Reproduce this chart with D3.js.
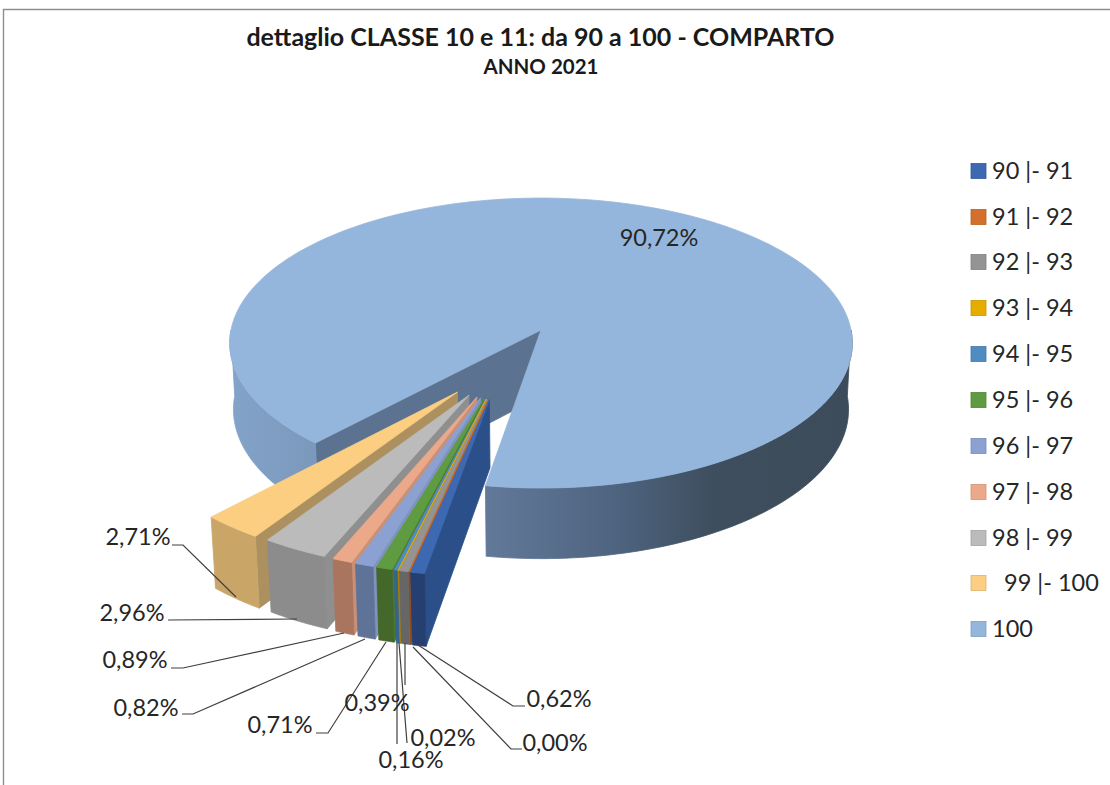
<!DOCTYPE html>
<html><head><meta charset="utf-8">
<script src="https://cdn.jsdelivr.net/npm/d3@7"></script>
<style>html,body{margin:0;padding:0;background:#fff}svg{display:block}text{font-family:Lato,"Open Sans",sans-serif}</style>
</head><body><svg id="c" width="1110" height="785"></svg>
<script>
const titleText = "dettaglio CLASSE 10 e 11: da 90 a 100 - COMPARTO";
const subtitleText = "ANNO 2021";
const categories = ["90 |- 91","91 |- 92","92 |- 93","93 |- 94","94 |- 95","95 |- 96","96 |- 97","97 |- 98","98 |- 99","  99 |- 100","100"];
const values = [0.62,0.00,0.39,0.02,0.16,0.71,0.82,0.89,2.96,2.71,90.72];
const valueLabels = ["0,62%","0,00%","0,39%","0,02%","0,16%","0,71%","0,82%","0,89%","2,96%","2,71%","90,72%"];
const topColors  = ["#3d69b2","#d2702c","#949494","#e6ad00","#4e8cc2","#5f9b40","#8ba1d2","#eba98a","#bbbbbb","#fbce82","#95b6dc"];
const outerColors= ["#243f70","#8a4a1e","#666666","#a87f00","#35648c","#43682a","#5f7297","#a9755f","#8c8c8c","#c9a568","#95b6dc"];
const wallColors = ["#2b5089","#a05822","#808080","#b08600","#3c6f9c","#4b7a31","#7e93bd","#c99078","#8f8f8f","#ad9060","#5b7390"];
const legendY = [171,217,262,308,354,400,446,492,538,583,629];
const labelPos = [[559,699],[555,743],[377,703],[443,738],[411,760],[280,725],[146,708],[135,660],[132,613],[138,537],[659,238]];
const leaders = [
 [[525,706],[513,706],[418,645]],
 [[522,749],[511,749],[413,647]],
 [[405,685],[405,643]],
 [[407,743],[399,643]],
 [[397,744],[397,643]],
 [[316,733],[328,733],[386,642]],
 [[182,714],[193,714],[365,639]],
 [[171,668],[183,668],[344,633]],
 [[168,620],[297,619]],
 [[172,545],[183,545],[236,597]]
];
const svg = d3.select("#c");
const defs = svg.append("defs");
const T = {cx:541,cy:330,rx:310,ry:143.8,k:0.09,d:67,shrink:0.012};
function proj(X,Y,z){ const w=1-T.k*Y+T.shrink*z; return [T.cx+T.rx*X/w, T.cy+(T.ry*Y+T.d*z)/w]; }
const deg=Math.PI/180, startA=9.4*deg, explodedR=1.02;
const pieGen=d3.pie().sort(null).value(d=>d).startAngle(startA).endAngle(startA+2*Math.PI);
const arcs=pieGen(values);
const line=d3.line();
const ang=(o,r,a)=>[o[0]-r*Math.sin(a),o[1]+r*Math.cos(a)];
function sampled(a0,a1,n){return d3.range(n+1).map(i=>a0+(a1-a0)*i/n);}
function explodeOrigin(mid){
  const e=(19+0.473*(mid/deg-10.5))*deg;
  return ang([0,0],0.49,e);
}
function grad(id,x1,x2,stops){
  const g=defs.append("linearGradient").attr("id",id).attr("gradientUnits","userSpaceOnUse").attr("x1",x1).attr("x2",x2).attr("y1",0).attr("y2",0);
  stops.forEach(s=>g.append("stop").attr("offset",s[0]).attr("stop-color",s[1]));
  return `url(#${id})`;
}
const rimLeft=grad("gl",230,320,[[0,"#84a3c9"],[1,"#7a98bb"]]);
const rimRight=grad("gr",485,853,[[0,"#62799a"],[0.35,"#4e6480"],[0.62,"#3e4e5e"],[1,"#3d4c5a"]]);
const g=svg.append("g");
function poly(pts,fill,stroke){g.append("path").attr("d",line(pts)+"Z").attr("fill",fill).attr("stroke",stroke||fill).attr("stroke-width",0.8).attr("stroke-linejoin","round");}
function wallRim(o,R,a0,a1,fill){
  const as=sampled(a0,a1,80);
  const topP=as.map(a=>{const p=ang(o,R,a);return proj(p[0],p[1],0);});
  const botP=as.map(a=>{const p=ang(o,R,a);return proj(p[0],p[1],1);}).reverse();
  poly(topP.concat(botP),fill);
}
function radial(o,R,a,fill){
  const p=ang(o,R,a);
  poly([proj(o[0],o[1],0),proj(p[0],p[1],0),proj(p[0],p[1],1),proj(o[0],o[1],1)],fill);
}
function topFace(o,R,a0,a1,fill){
  const n=Math.max(2,Math.ceil((a1-a0)/deg));
  const pts=[proj(o[0],o[1],0)].concat(sampled(a0,a1,n).map(a=>{const p=ang(o,R,a);return proj(p[0],p[1],0);}));
  poly(pts,fill);
}
// main slice
const main=arcs[10], o0=[0,0];
radial(o0,1,main.startAngle,wallColors[10]);
wallRim(o0,1,main.startAngle,Math.PI/2,rimLeft);
wallRim(o0,1,3*Math.PI/2,main.endAngle,rimRight);
topFace(o0,1,main.startAngle,main.endAngle,topColors[10]);
// small slices, far left first
for(let i=9;i>=0;i--){
  const a=arcs[i], o=explodeOrigin((a.startAngle+a.endAngle)/2);
  radial(o,explodedR,a.startAngle,wallColors[i]);
  wallRim(o,explodedR,a.startAngle,a.endAngle,outerColors[i]);
  topFace(o,explodedR,a.startAngle,a.endAngle,topColors[i]);
}
// leaders
svg.append("g").selectAll("path").data(leaders).join("path").attr("d",d=>line(d)).attr("fill","none").attr("stroke","#404040").attr("stroke-width",1.2);
// labels
svg.append("g").selectAll("text").data(valueLabels).join("text")
 .attr("x",(d,i)=>labelPos[i][0]).attr("y",(d,i)=>labelPos[i][1]).attr("dy","0.36em")
 .attr("text-anchor","middle").attr("font-size",23.5).attr("fill","#262626").text(d=>d);
// title
svg.append("text").attr("x",540.5).attr("y",37).attr("dy","0.36em").attr("text-anchor","middle").attr("font-size",25).attr("font-weight",700).attr("fill","#1a1a1a").text(titleText);
svg.append("text").attr("x",541).attr("y",67).attr("dy","0.36em").attr("text-anchor","middle").attr("font-size",20.5).attr("font-weight",700).attr("fill","#1a1a1a").text(subtitleText);
// legend
const lg=svg.append("g").selectAll("g").data(categories).join("g").attr("transform",(d,i)=>`translate(971,${legendY[i]})`);
lg.append("rect").attr("x",0).attr("y",-7.5).attr("width",15).attr("height",15).attr("fill",(d,i)=>topColors[i]).attr("stroke",(d,i)=>d3.color(topColors[i]).darker(0.4)).attr("stroke-width",0.8);
lg.append("text").attr("x",21).attr("dy","0.36em").attr("font-size",23.5).attr("fill","#262626").style("white-space","pre").text(d=>d);
// frame
svg.append("path").attr("d","M3.5,785V9.5H1110").attr("fill","none").attr("stroke","#8f8f8f").attr("stroke-width",1.4);
</script></body></html>
